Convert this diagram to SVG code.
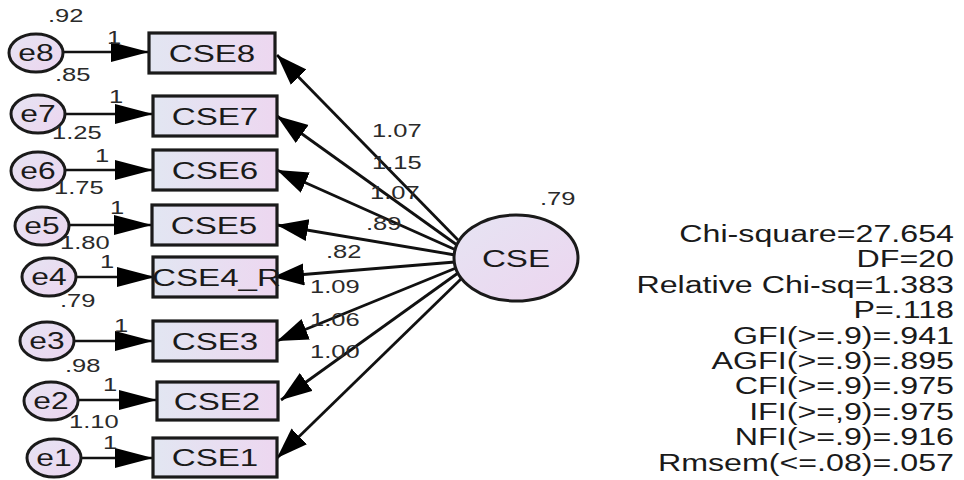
<svg xmlns="http://www.w3.org/2000/svg" width="964" height="480" viewBox="0 0 964 480">
<style>
text{font-family:"Liberation Sans",Arial,sans-serif;fill:#1a1a1a}
.nt{font-size:23px;text-anchor:middle}
.bt{font-size:24px;text-anchor:middle}
.lb{font-size:18.5px;fill:#2a2a2a}
.fit{font-size:23px;text-anchor:end}
.box{fill:url(#gb);stroke:#1a1a1a;stroke-width:3.2}
.ell{fill:url(#ge);stroke:#1a1a1a;stroke-width:3}
.cn{stroke:#111;stroke-width:2.8;fill:none;marker-end:url(#ah)}
.ce{stroke:#111;stroke-width:2.6;fill:none;marker-end:url(#ah2)}
</style>
<defs>
<linearGradient id="gb" x1="0" y1="0" x2="1" y2="0"><stop offset="0" stop-color="#e2e6f2"/><stop offset="1" stop-color="#edd7f0"/></linearGradient>
<linearGradient id="ge" x1="0" y1="0" x2="1" y2="1"><stop offset="0" stop-color="#e6e4f3"/><stop offset="1" stop-color="#ecd5ef"/></linearGradient>
<marker id="ah" markerUnits="userSpaceOnUse" markerWidth="34" markerHeight="24" refX="31" refY="11" orient="auto"><path d="M0,0 L31,11 L0,22 z" fill="#000"/></marker>
<marker id="ah2" markerUnits="userSpaceOnUse" markerWidth="42" markerHeight="22" refX="38" refY="10" orient="auto"><path d="M0,0 L38,10 L0,20 z" fill="#000"/></marker>
</defs>
<g id="connectors">
<path class="ce" d="M63,52 H149"/>
<path class="ce" d="M65,114 H153"/>
<path class="ce" d="M65,170 H153"/>
<path class="ce" d="M69,225 H152"/>
<path class="ce" d="M76,277 H155"/>
<path class="ce" d="M74,341 H153"/>
<path class="ce" d="M78,400 H157"/>
<path class="ce" d="M81,458 H153"/>
<path class="cn" d="M458,240 L277,55"/>
<path class="cn" d="M457,245 L277,116"/>
<path class="cn" d="M456,250 L277,170"/>
<path class="cn" d="M455,255 L277,225"/>
<path class="cn" d="M455,262 L273,277"/>
<path class="cn" d="M456,268 L277,341"/>
<path class="cn" d="M458,273 L281,400"/>
<path class="cn" d="M462,278 L277,458"/>
</g>
<g id="e8"><ellipse class="ell" cx="36" cy="53" rx="27" ry="19"/><text class="nt" transform="translate(36,61) scale(1.38,1)">e8</text></g>
<g id="e7"><ellipse class="ell" cx="38" cy="114" rx="27" ry="19"/><text class="nt" transform="translate(38,122) scale(1.38,1)">e7</text></g>
<g id="e6"><ellipse class="ell" cx="38" cy="171" rx="27" ry="19"/><text class="nt" transform="translate(38,179) scale(1.38,1)">e6</text></g>
<g id="e5"><ellipse class="ell" cx="42" cy="226" rx="27" ry="19"/><text class="nt" transform="translate(42,234) scale(1.38,1)">e5</text></g>
<g id="e4"><ellipse class="ell" cx="49" cy="277" rx="27" ry="19"/><text class="nt" transform="translate(49,285) scale(1.38,1)">e4</text></g>
<g id="e3"><ellipse class="ell" cx="47" cy="341" rx="27" ry="19"/><text class="nt" transform="translate(47,349) scale(1.38,1)">e3</text></g>
<g id="e2"><ellipse class="ell" cx="51" cy="401" rx="27" ry="19"/><text class="nt" transform="translate(51,409) scale(1.38,1)">e2</text></g>
<g id="e1"><ellipse class="ell" cx="54" cy="458" rx="27" ry="19"/><text class="nt" transform="translate(54,466) scale(1.38,1)">e1</text></g>
<g id="CSE8"><rect class="box" x="149" y="33" width="126" height="40"/><text class="bt" transform="translate(212,61.5) scale(1.38,1)">CSE8</text></g>
<g id="CSE7"><rect class="box" x="153" y="96" width="124" height="40"/><text class="bt" transform="translate(215,124.5) scale(1.38,1)">CSE7</text></g>
<g id="CSE6"><rect class="box" x="153" y="150" width="124" height="40"/><text class="bt" transform="translate(215,178.5) scale(1.38,1)">CSE6</text></g>
<g id="CSE5"><rect class="box" x="152" y="205" width="125" height="40"/><text class="bt" transform="translate(214,233.5) scale(1.38,1)">CSE5</text></g>
<g id="CSE4_R"><rect class="box" x="153" y="257" width="124" height="40"/><text class="bt" transform="translate(216.5,285.5) scale(1.38,1)">CSE4_R</text></g>
<g id="CSE3"><rect class="box" x="153" y="321" width="124" height="40"/><text class="bt" transform="translate(215,349.5) scale(1.38,1)">CSE3</text></g>
<g id="CSE2"><rect class="box" x="157" y="382" width="121" height="38"/><text class="bt" transform="translate(217,409.5) scale(1.38,1)">CSE2</text></g>
<g id="CSE1"><rect class="box" x="153" y="438" width="124" height="39"/><text class="bt" transform="translate(215,466) scale(1.38,1)">CSE1</text></g>
<g id="CSE"><ellipse class="ell" cx="516" cy="258" rx="62" ry="43"/><text class="bt" transform="translate(516,266.5) scale(1.38,1)">CSE</text></g>
<g id="labels">
<text class="lb" transform="translate(48,22) scale(1.38,1)">.92</text>
<text class="lb" transform="translate(55,81) scale(1.38,1)">.85</text>
<text class="lb" transform="translate(52,139) scale(1.38,1)">1.25</text>
<text class="lb" transform="translate(54,194) scale(1.38,1)">1.75</text>
<text class="lb" transform="translate(60,249) scale(1.38,1)">1.80</text>
<text class="lb" transform="translate(60,307) scale(1.38,1)">.79</text>
<text class="lb" transform="translate(65,372) scale(1.38,1)">.98</text>
<text class="lb" transform="translate(69,428) scale(1.38,1)">1.10</text>
<text class="lb" transform="translate(107,44) scale(1.38,1)">1</text>
<text class="lb" transform="translate(109,103) scale(1.38,1)">1</text>
<text class="lb" transform="translate(95,162) scale(1.38,1)">1</text>
<text class="lb" transform="translate(110,214) scale(1.38,1)">1</text>
<text class="lb" transform="translate(100,268) scale(1.38,1)">1</text>
<text class="lb" transform="translate(114,332) scale(1.38,1)">1</text>
<text class="lb" transform="translate(103,391) scale(1.38,1)">1</text>
<text class="lb" transform="translate(103,449) scale(1.38,1)">1</text>
<text class="lb" transform="translate(372,137) scale(1.38,1)">1.07</text>
<text class="lb" transform="translate(372,169) scale(1.38,1)">1.15</text>
<text class="lb" transform="translate(370,199) scale(1.38,1)">1.07</text>
<text class="lb" transform="translate(366,230) scale(1.38,1)">.89</text>
<text class="lb" transform="translate(326,258) scale(1.38,1)">.82</text>
<text class="lb" transform="translate(310,293) scale(1.38,1)">1.09</text>
<text class="lb" transform="translate(310,326) scale(1.38,1)">1.06</text>
<text class="lb" transform="translate(310,358) scale(1.38,1)">1.00</text>
<text class="lb" transform="translate(540,205) scale(1.38,1)">.79</text>
</g>
<g id="fit">
<text class="fit" transform="translate(954,242) scale(1.4,1)">Chi-square=27.654</text>
<text class="fit" transform="translate(954,267.4) scale(1.4,1)">DF=20</text>
<text class="fit" transform="translate(954,292.8) scale(1.4,1)">Relative Chi-sq=1.383</text>
<text class="fit" transform="translate(954,318.2) scale(1.4,1)">P=.118</text>
<text class="fit" transform="translate(954,343.6) scale(1.4,1)">GFI(&gt;=.9)=.941</text>
<text class="fit" transform="translate(954,369) scale(1.4,1)">AGFI(&gt;=.9)=.895</text>
<text class="fit" transform="translate(954,394.4) scale(1.4,1)">CFI(&gt;=.9)=.975</text>
<text class="fit" transform="translate(954,419.8) scale(1.4,1)">IFI(&gt;=,9)=.975</text>
<text class="fit" transform="translate(954,445.2) scale(1.4,1)">NFI(&gt;=.9)=.916</text>
<text class="fit" transform="translate(954,470.6) scale(1.4,1)">Rmsem(&lt;=.08)=.057</text>
</g>
</svg>
